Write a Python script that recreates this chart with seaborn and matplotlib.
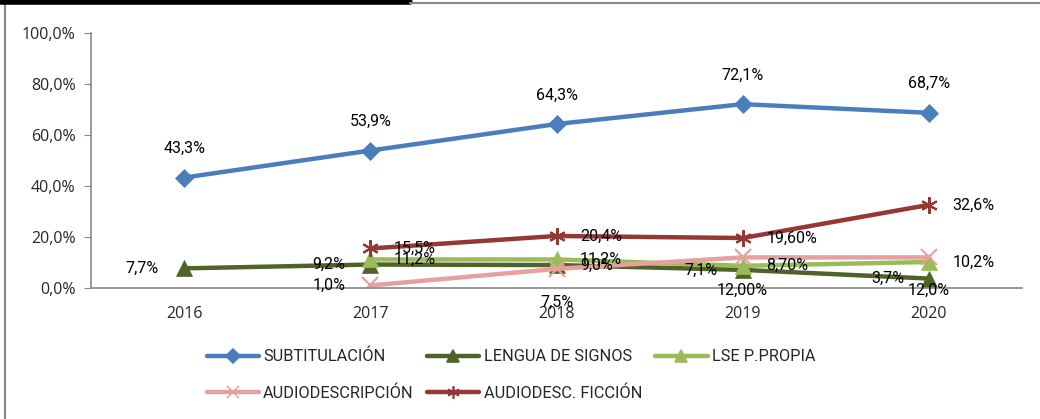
import seaborn as sns
import matplotlib.pyplot as plt
from matplotlib.lines import Line2D
import pandas as pd

years = ["2016", "2017", "2018", "2019", "2020"]
series_names = ["SUBTITULACIÓN", "LENGUA DE SIGNOS", "LSE P.PROPIA",
                "AUDIODESCRIPCIÓN", "AUDIODESC. FICCIÓN"]

subtitulacion = [43.3, 53.9, 64.3, 72.1, 68.7]
lengua_signos = [7.7, 9.2, 9.0, 7.1, 3.7]
lse_propia = [None, 11.2, 11.2, 8.7, 10.2]
audiodescripcion = [None, 1.0, 7.5, 12.0, 12.0]
audiodesc_ficcion = [None, 15.5, 20.4, 19.6, 32.6]

labels_sub = ["43,3%", "53,9%", "64,3%", "72,1%", "68,7%"]
labels_lse = ["7,7%", "9,2%", "9,0%", "7,1%", "3,7%"]
labels_lsep = [None, "11,2%", "11,2%", "8,70%", "10,2%"]
labels_ad = [None, "1,0%", "7,5%", "12,00%", "12,0%"]
labels_adf = [None, "15,5%", "20,4%", "19,60%", "32,6%"]

values = [subtitulacion, lengua_signos, lse_propia, audiodescripcion, audiodesc_ficcion]
labels = [labels_sub, labels_lse, labels_lsep, labels_ad, labels_adf]

colors = ["#4A7EBB", "#4F6228", "#9BBB59", "#E6A0A0", "#953735"]
markers = ["D", "^", "^", "x", (6, 2, 0)]
msizes = [9, 11, 11, 11, 12]
# where each data label sits relative to its point
placement = [
    ["above"] * 5,
    ["left", "left", "right", "left", "left"],
    ["right"] * 5,
    [None, "left", "below", "below", "below"],
    ["right"] * 5,
]

sns.set_style("white")
plt.rcParams["font.family"] = ["Open Sans", "DejaVu Sans"]
label_font = ["Roboto", "DejaVu Sans"]

fig = plt.figure(figsize=(10.4, 4.19), dpi=100)
ax = fig.add_axes([91 / 1040, 1 - 288 / 419, 931 / 1040, 255 / 419])

x = list(range(len(years)))
for name, vals, col, mk, ms in zip(series_names, values, colors, markers, msizes):
    df = pd.DataFrame({"x": x, "y": vals}).dropna()
    sns.lineplot(data=df, x="x", y="y", ax=ax, color=col, linewidth=3.2,
                 marker=mk, markersize=ms, markeredgecolor=col,
                 markeredgewidth=1.5 if mk in ("x", (6, 2, 0)) else 0.5,
                 label=name, legend=False)

offsets = {"above": (0, 21, "center", "center"),
           "below": (0, -24, "center", "center"),
           "left": (-18, 0, "right", "center"),
           "right": (17, 0, "left", "center")}
for vals, labs, pl in zip(values, labels, placement):
    for i, (v, lab) in enumerate(zip(vals, labs)):
        if v is None:
            continue
        dx, dy, ha, va = offsets[pl[i]]
        ax.annotate(lab, (i, v), xytext=(dx, dy), textcoords="offset points",
                    ha=ha, va=va, fontsize=11.5, family=label_font, color="black")

ax.set_xlim(-0.5, 4.5)
ax.set_ylim(0, 100)
ax.set_yticks([0, 20, 40, 60, 80, 100])
ax.set_yticklabels(["0,0%", "20,0%", "40,0%", "60,0%", "80,0%", "100,0%"], fontsize=11.5)
ax.set_xticks(x)
ax.set_xticklabels(years, fontsize=11.5)
ax.set_xticks([i - 0.5 for i in range(6)], minor=True)
ax.tick_params(axis="x", which="major", length=0, pad=13)
ax.tick_params(axis="x", which="minor", length=5, color="#888888", direction="out")
ax.tick_params(axis="y", length=5, color="#888888", direction="out", left=True, pad=6)
ax.set_xlabel("")
ax.set_ylabel("")
for side in ["top", "right"]:
    ax.spines[side].set_visible(False)
for side in ["left", "bottom"]:
    ax.spines[side].set_color("#888888")
    ax.spines[side].set_linewidth(1.2)

handles = [Line2D([0], [0], color=c, linewidth=3.2, marker=m, markersize=s * 0.75,
                  markeredgecolor=c, markeredgewidth=1.2)
           for c, m, s in zip(colors, markers, msizes)]
# legend fills row by row in the reference
order = [0, 3, 1, 4, 2]
fig.legend([handles[i] for i in order], [series_names[i] for i in order],
           loc="upper left", bbox_to_anchor=(192 / 1040, 1 - 334 / 419),
           ncol=3, frameon=False, handlelength=3.2, handletextpad=0.25, columnspacing=0.8,
           labelspacing=1.3, prop={"family": label_font, "size": 11.8})

# frame lines around the chart area
fig.add_artist(Line2D([5 / 1040, 5 / 1040], [0, 1 - 4 / 419], color="#888888", linewidth=1.5))
fig.add_artist(Line2D([0, 410 / 1040], [1 - 2 / 419, 1 - 2 / 419], color="black", linewidth=4))
fig.add_artist(Line2D([410 / 1040, 1], [1 - 3 / 419, 1 - 3 / 419], color="#888888", linewidth=1.5))

fig.savefig("out.png", dpi=100)
